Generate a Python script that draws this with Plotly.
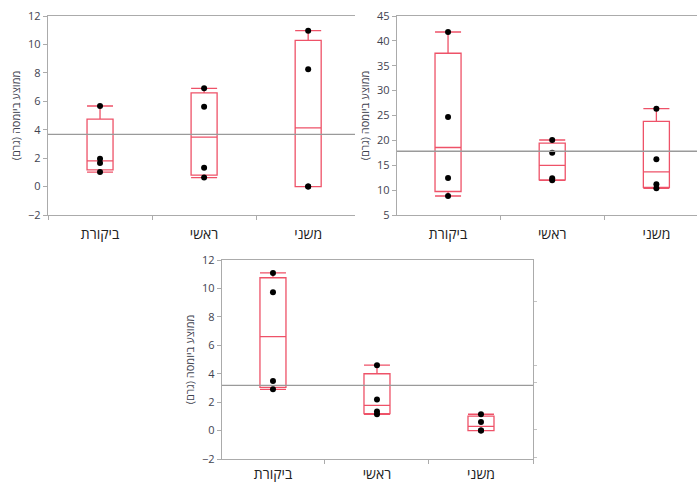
import numpy as np
import plotly.graph_objects as go

# Treatment groups (x categories, left to right)
groups = ["ביקורת", "ראשי", "משני"]
y_title = "ממוצע ביומסה (גרם)"

# Top-left panel: biomass per replicate
tl_control = [1.02, 1.66, 1.96, 5.67]
tl_primary = [0.63, 1.33, 5.62, 6.91]
tl_secondary = [0.0, 0.0, 8.25, 10.97]

# Top-right panel
tr_control = [8.82, 12.44, 24.70, 41.78]
tr_primary = [11.97, 12.40, 17.53, 20.08]
tr_secondary = [10.36, 11.16, 16.19, 26.37]

# Bottom panel
b_control = [2.90, 3.48, 9.73, 11.09]
b_primary = [1.14, 1.35, 2.19, 4.60]
b_secondary = [0.0, 0.0, 0.60, 1.15]

# Extra marks on the right edge of the bottom panel
b_right_ticks = [9.07, 4.56, 3.38, 0.06, -1.9]

BOX_COLOR = "rgb(238,82,104)"
AXIS_COLOR = "#ababab"
MEAN_COLOR = "#9a9a9a"
FONT_FAMILY = "Open Sans, Liberation Sans, DejaVu Sans"
TICK_FONT = dict(family=FONT_FAMILY, size=11, color="#3f4350")
CAT_FONT = dict(family=FONT_FAMILY, size=14, color="#222222")

panels = [
    ("x", "y", [tl_control, tl_primary, tl_secondary]),
    ("x2", "y2", [tr_control, tr_primary, tr_secondary]),
    ("x3", "y3", [b_control, b_primary, b_secondary]),
]

fig = go.Figure()
shapes = []

for xa, ya, series in panels:
    for g, vals in zip(groups, series):
        v = np.asarray(vals, dtype=float)
        q1, med, q3 = np.percentile(v, [25, 50, 75], method="weibull")
        fig.add_trace(go.Box(
            x=[g], q1=[q1], median=[med], q3=[q3],
            lowerfence=[v.min()], upperfence=[v.max()],
            width=0.25, whiskerwidth=1,
            line=dict(color=BOX_COLOR, width=1.3),
            fillcolor="rgba(0,0,0,0)",
            boxpoints=False, hoverinfo="skip",
            xaxis=xa, yaxis=ya, showlegend=False,
        ))
        fig.add_trace(go.Scatter(
            x=[g] * len(v), y=v, mode="markers",
            marker=dict(color="black", size=6),
            xaxis=xa, yaxis=ya, showlegend=False, hoverinfo="skip",
        ))
    # grand mean reference line
    grand_mean = float(np.mean(np.concatenate([np.asarray(s, float) for s in series])))
    shapes.append(dict(
        type="line", xref=f"{xa} domain", yref=ya,
        x0=0, x1=1, y0=grand_mean, y1=grand_mean,
        line=dict(color=MEAN_COLOR, width=1.3), layer="above",
    ))

# invisible trace to anchor the right-side tick axis of the bottom panel
fig.add_trace(go.Scatter(x=[groups[0]], y=[None], xaxis="x3", yaxis="y4",
                         mode="markers", showlegend=False, hoverinfo="skip"))


def xaxis(domain, rng, anchor, standoff=6):
    return dict(
        domain=domain, range=rng, anchor=anchor, automargin=False,
        type="category", categoryorder="array", categoryarray=groups,
        tickson="boundaries", ticks="outside", ticklen=4, tickcolor=AXIS_COLOR,
        ticklabelstandoff=standoff,
        showline=True, linecolor=AXIS_COLOR, linewidth=1.3, mirror=True,
        showgrid=False, zeroline=False, tickfont=CAT_FONT,
    )


def yaxis(domain, rng, dtick, anchor, mirror=False):
    return dict(
        domain=domain, range=rng, dtick=dtick, anchor=anchor, automargin=False,
        ticks="outside", ticklen=4, tickcolor=AXIS_COLOR,
        showline=True, linecolor=AXIS_COLOR, linewidth=1.3, mirror=mirror,
        showgrid=False, zeroline=False, tickfont=TICK_FONT,
        title=dict(text=y_title, font=dict(family=FONT_FAMILY, size=11, color="#3f4350"),
                   standoff=5),
    )


W, H = 697, 484
fig.update_layout(
    width=W, height=H,
    margin=dict(l=0, r=0, t=0, b=0, autoexpand=False),
    paper_bgcolor="white", plot_bgcolor="white",
    xaxis=xaxis([48 / W, 355 / W], [-0.5, 2.45], "y"),
    yaxis=yaxis([1 - 215 / H, 1 - 16 / H], [-2, 12], 2, "x"),
    xaxis2=xaxis([397 / W, 1.0], [-0.49, 2.39], "y2"),
    yaxis2=yaxis([1 - 215 / H, 1 - 16 / H], [5, 45], 5, "x2"),
    xaxis3=xaxis([222 / W, 533 / W], [-0.49, 2.5], "y3", standoff=2),
    yaxis3=yaxis([1 - 459 / H, 1 - 260 / H], [-2, 12], 2, "x3", mirror=True),
    yaxis4=dict(
        overlaying="y3", side="right", anchor="x3", range=[-2, 12], automargin=False,
        tickvals=b_right_ticks, ticks="outside", ticklen=3, tickcolor="#c4c4c4",
        showticklabels=False, showgrid=False, zeroline=False, showline=False,
    ),
    shapes=shapes,
)

fig.write_html("out.html")
